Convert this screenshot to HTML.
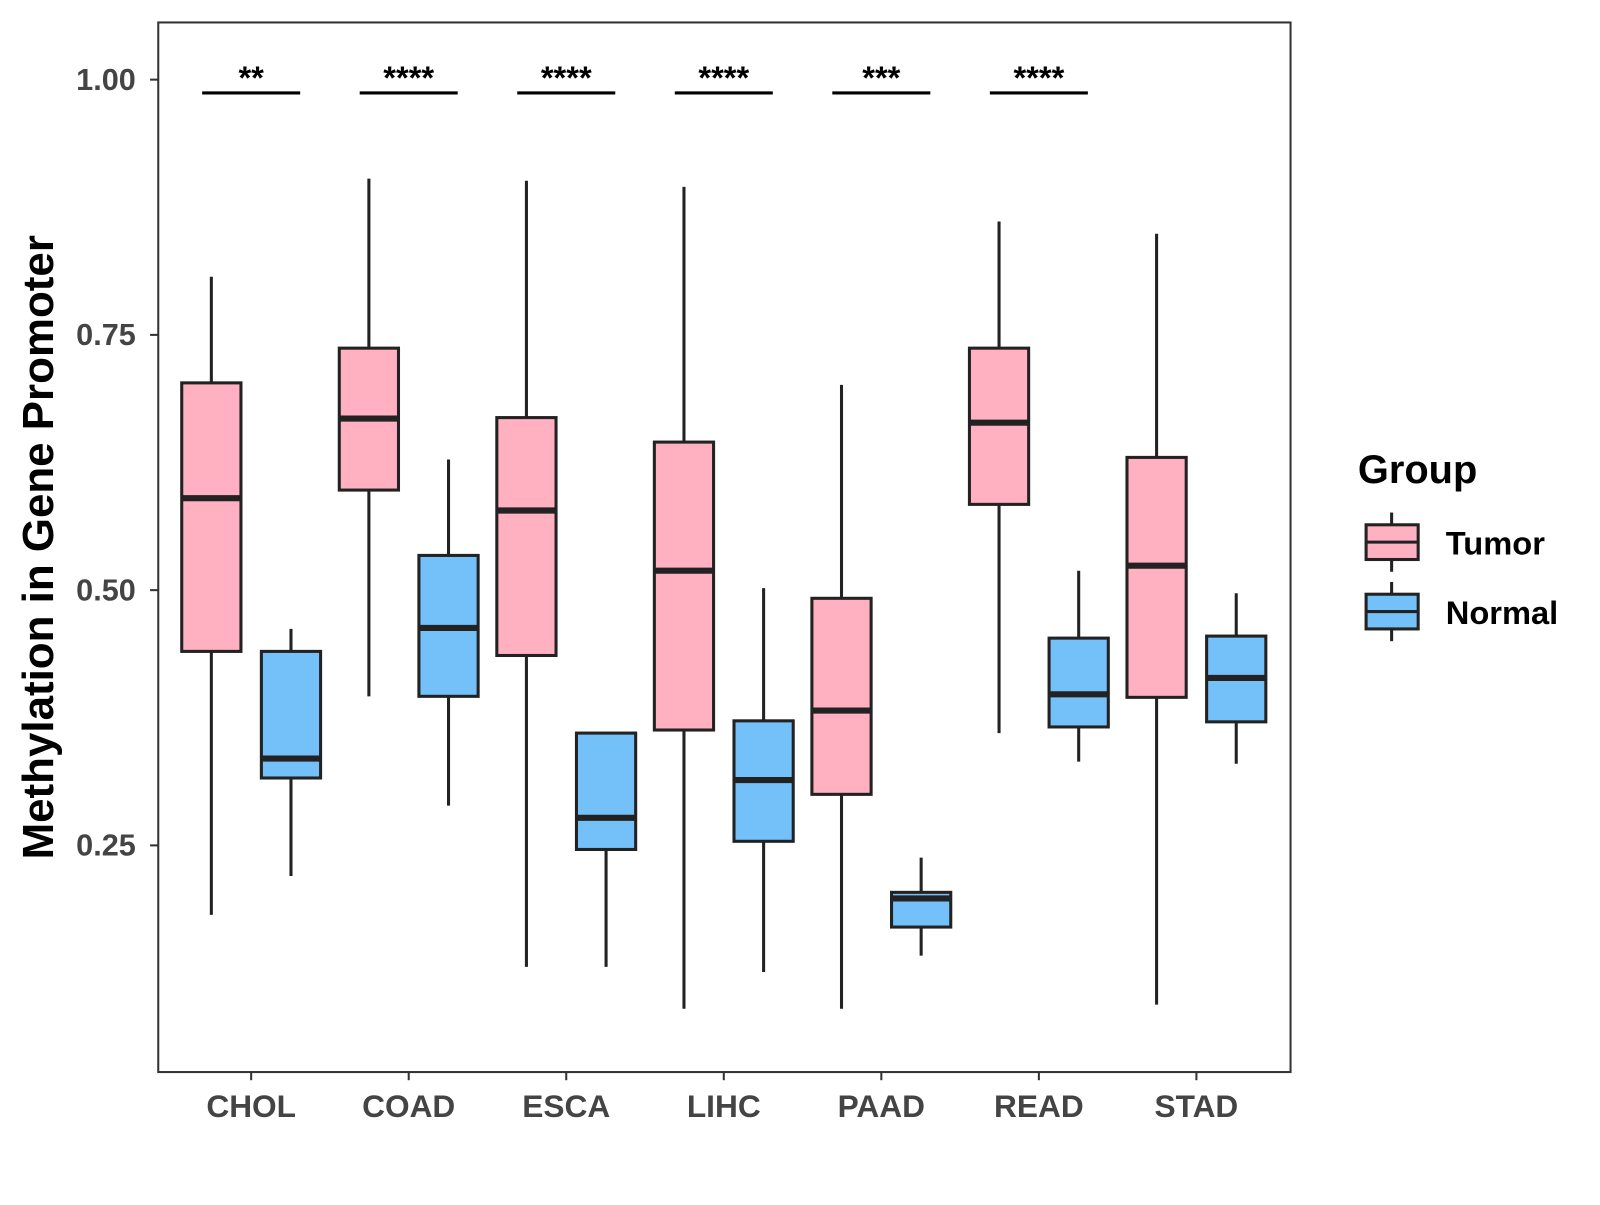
<!DOCTYPE html>
<html><head><meta charset="utf-8"><style>
body{margin:0;background:#fff;}
svg text{font-family:"Liberation Sans",Arial,sans-serif;font-weight:bold;}
</style></head><body>
<svg width="1600" height="1200" xmlns="http://www.w3.org/2000/svg">
<g id="chart" transform="scale(1.021)">
<rect x="155" y="22" width="1109" height="1028" fill="#fff" stroke="#333" stroke-width="2"/>
<g id="marks"></g>
<text transform="translate(52,536) rotate(-90)" text-anchor="middle" font-size="43" fill="#000">Methylation in Gene Promoter</text>
<g>
<text x="1330" y="473" font-size="39" fill="#000">Group</text>
<g>
<line x1="1363" y1="502" x2="1363" y2="560" stroke="#222" stroke-width="3"/>
<rect x="1338" y="514" width="51" height="34" fill="#FFB0C1" stroke="#222" stroke-width="3"/>
<line x1="1338" y1="531" x2="1389" y2="531" stroke="#222" stroke-width="3"/>
<text x="1416" y="543" font-size="32" fill="#000">Tumor</text></g>
<g>
<line x1="1363" y1="570" x2="1363" y2="628" stroke="#222" stroke-width="3"/>
<rect x="1338" y="582" width="51" height="34" fill="#74C0F8" stroke="#222" stroke-width="3"/>
<line x1="1338" y1="599" x2="1389" y2="599" stroke="#222" stroke-width="3"/>
<text x="1416" y="611" font-size="32" fill="#000">Normal</text></g>
</g>
</g>
</svg>
<script>
const categories=["CHOL","COAD","ESCA","LIHC","PAAD","READ","STAD"];
const yTicks=[0.25,0.50,0.75,1.00];
const yTickLabels=["0.25","0.50","0.75","1.00"];
// [low, q1, median, q3, high]
const tumorStats=[[0.182,0.440,0.590,0.703,0.807],[0.396,0.598,0.668,0.737,0.903],[0.131,0.436,0.578,0.669,0.901],[0.090,0.363,0.519,0.645,0.895],[0.090,0.300,0.382,0.492,0.701],[0.360,0.584,0.664,0.737,0.861],[0.094,0.395,0.524,0.630,0.849]];
const normalStats=[[0.220,0.316,0.335,0.440,0.462],[0.289,0.396,0.463,0.534,0.628],[0.131,0.246,0.277,0.360,0.360],[0.126,0.254,0.314,0.372,0.502],[0.142,0.170,0.198,0.204,0.238],[0.332,0.366,0.398,0.453,0.519],[0.330,0.371,0.414,0.455,0.497]];
const sigLabels=["**","****","****","****","***","****",""];
const sigLevel=0.987;
const NS="http://www.w3.org/2000/svg";
const g=document.getElementById("marks");
function y(v){return 78+(1-v)*1000;}
function x(i){return 246+i*154.3;}
function mk(t,a,p){const e=document.createElementNS(NS,t);for(const k in a)e.setAttribute(k,a[k]);(p||g).appendChild(e);return e;}
yTicks.forEach((v,i)=>{
 const t=mk("line",{x1:147,x2:155,y1:y(v),y2:y(v),stroke:"#333","stroke-width":2});
 
 
 const l=mk("text",{x:133,y:y(v)+10,"text-anchor":"end","font-size":30,fill:"#444"});
 l.textContent=yTickLabels[i];
 
 
});
categories.forEach((c,i)=>{
 const t=mk("line",{x1:x(i),x2:x(i),y1:1050,y2:1058,stroke:"#333","stroke-width":2});
 
 
 const l=mk("text",{x:x(i),y:1094,"text-anchor":"middle","font-size":31,fill:"#444"});
 l.textContent=c;
 
 
 [[tumorStats[i],-39,"#FFB0C1","tumor"],[normalStats[i],39,"#74C0F8","normal"]].forEach(([s,o,col,n])=>{
  const cx=x(i)+o;
  const b=mk("g",{});
  
  
  mk("line",{x1:cx,x2:cx,y1:y(s[0]),y2:y(s[4]),stroke:"#222","stroke-width":3},b);
  mk("rect",{x:cx-29,y:y(s[3]),width:58,height:y(s[1])-y(s[3]),fill:col,stroke:"#222","stroke-width":3},b);
  mk("line",{x1:cx-29,x2:cx+29,y1:y(s[2]),y2:y(s[2]),stroke:"#222","stroke-width":6},b);
 });
 if(sigLabels[i]){
  const sl=mk("line",{x1:x(i)-48,x2:x(i)+48,y1:y(sigLevel),y2:y(sigLevel),stroke:"#000","stroke-width":3});
  
  
  const st=mk("text",{x:x(i),y:y(sigLevel)-4,"text-anchor":"middle","font-size":32,fill:"#000"});
  st.textContent=sigLabels[i];
  
  
 }
});
</script>
</body></html>
